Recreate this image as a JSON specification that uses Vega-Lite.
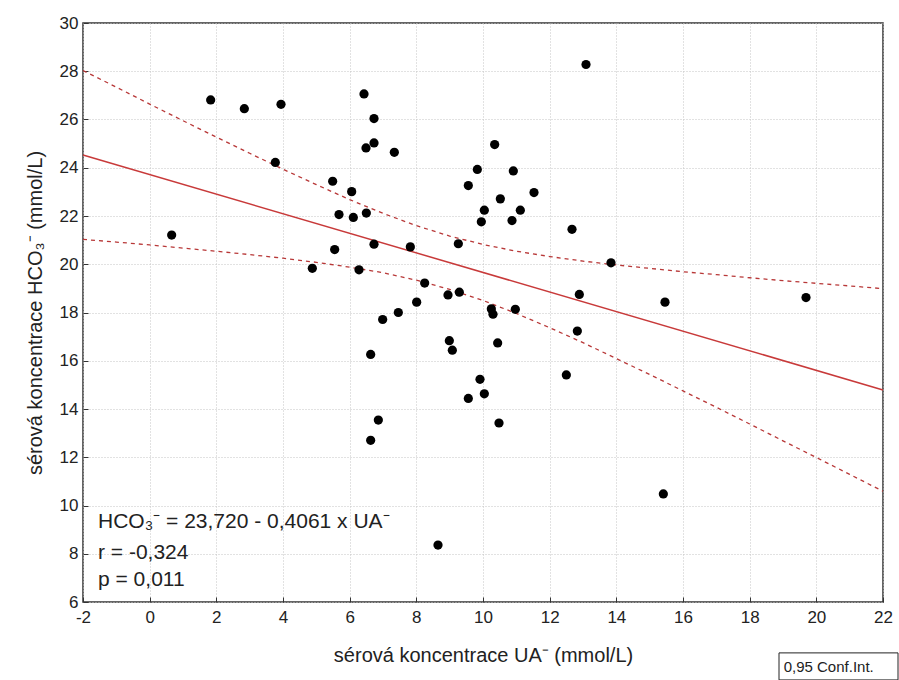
{
  "$schema": "https://vega.github.io/schema/vega-lite/v6.json",
  "width": 800,
  "height": 579,
  "autosize": "none",
  "padding": {"left": 83, "top": 23, "right": 16, "bottom": 78},
  "background": "white",
  "config": {
    "font": "Liberation Sans",
    "view": {"stroke": "#333", "strokeWidth": 1.5},
    "axis": {
      "labelFont": "Liberation Sans",
      "titleFont": "Liberation Sans",
      "labelFontSize": 17,
      "titleFontSize": 20,
      "labelColor": "#222",
      "titleColor": "#222",
      "titleFontWeight": "normal",
      "domain": false,
      "tickColor": "#333",
      "tickSize": -5,
      "gridColor": "#c4c4c4",
      "gridDash": [1, 2],
      "gridWidth": 1
    }
  },
  "datasets": {
    "pts": [
      {"x": 1.83, "y": 26.81}, {"x": 2.84, "y": 26.45}, {"x": 3.94, "y": 26.63}, {"x": 0.66, "y": 21.21},
      {"x": 3.77, "y": 24.22}, {"x": 6.43, "y": 27.06}, {"x": 6.73, "y": 26.04}, {"x": 6.49, "y": 24.82},
      {"x": 6.73, "y": 25.03}, {"x": 7.34, "y": 24.64}, {"x": 5.49, "y": 23.44}, {"x": 6.06, "y": 23.01},
      {"x": 5.68, "y": 22.06}, {"x": 6.11, "y": 21.94}, {"x": 6.50, "y": 22.12}, {"x": 5.55, "y": 20.61},
      {"x": 6.73, "y": 20.83}, {"x": 4.88, "y": 19.83}, {"x": 6.28, "y": 19.77}, {"x": 7.82, "y": 20.72},
      {"x": 8.25, "y": 19.22}, {"x": 8.01, "y": 18.43}, {"x": 6.99, "y": 17.71}, {"x": 7.46, "y": 18.00},
      {"x": 8.95, "y": 18.73}, {"x": 9.29, "y": 18.84}, {"x": 13.09, "y": 28.28}, {"x": 10.35, "y": 24.96},
      {"x": 9.83, "y": 23.93}, {"x": 10.91, "y": 23.87}, {"x": 9.56, "y": 23.26}, {"x": 11.53, "y": 22.97},
      {"x": 10.52, "y": 22.71}, {"x": 10.04, "y": 22.24}, {"x": 11.12, "y": 22.24}, {"x": 9.95, "y": 21.76},
      {"x": 10.87, "y": 21.81}, {"x": 12.67, "y": 21.45}, {"x": 9.26, "y": 20.85}, {"x": 13.84, "y": 20.06},
      {"x": 12.89, "y": 18.75}, {"x": 15.46, "y": 18.43}, {"x": 19.69, "y": 18.62}, {"x": 10.25, "y": 18.15},
      {"x": 10.30, "y": 17.93}, {"x": 10.97, "y": 18.13}, {"x": 12.83, "y": 17.23}, {"x": 8.99, "y": 16.83},
      {"x": 9.08, "y": 16.44}, {"x": 10.44, "y": 16.74}, {"x": 12.50, "y": 15.41}, {"x": 9.91, "y": 15.23},
      {"x": 9.56, "y": 14.44}, {"x": 10.04, "y": 14.63}, {"x": 10.48, "y": 13.42}, {"x": 15.41, "y": 10.48},
      {"x": 6.63, "y": 16.26}, {"x": 6.86, "y": 13.54}, {"x": 6.63, "y": 12.70}, {"x": 8.65, "y": 8.36}
    ],
    "fit": [{"x": -2, "y": 24.53}, {"x": 22, "y": 14.79}],
    "bands": [
      {"band": "upper", "x": -2, "y": 28.03}, {"band": "upper", "x": -1, "y": 27.34}, {"band": "upper", "x": 0, "y": 26.64},
      {"band": "upper", "x": 1, "y": 25.95}, {"band": "upper", "x": 2, "y": 25.27}, {"band": "upper", "x": 3, "y": 24.60},
      {"band": "upper", "x": 4, "y": 23.94}, {"band": "upper", "x": 5, "y": 23.30}, {"band": "upper", "x": 6, "y": 22.68},
      {"band": "upper", "x": 7, "y": 22.11}, {"band": "upper", "x": 8, "y": 21.60}, {"band": "upper", "x": 9, "y": 21.17},
      {"band": "upper", "x": 10, "y": 20.82}, {"band": "upper", "x": 11, "y": 20.54}, {"band": "upper", "x": 12, "y": 20.32},
      {"band": "upper", "x": 13, "y": 20.13}, {"band": "upper", "x": 14, "y": 19.97}, {"band": "upper", "x": 15, "y": 19.83},
      {"band": "upper", "x": 16, "y": 19.69}, {"band": "upper", "x": 17, "y": 19.57}, {"band": "upper", "x": 18, "y": 19.44},
      {"band": "upper", "x": 19, "y": 19.32}, {"band": "upper", "x": 20, "y": 19.21}, {"band": "upper", "x": 21, "y": 19.10},
      {"band": "upper", "x": 22, "y": 18.99},
      {"band": "lower", "x": -2, "y": 21.03}, {"band": "lower", "x": -1, "y": 20.92}, {"band": "lower", "x": 0, "y": 20.80},
      {"band": "lower", "x": 1, "y": 20.67}, {"band": "lower", "x": 2, "y": 20.54}, {"band": "lower", "x": 3, "y": 20.40},
      {"band": "lower", "x": 4, "y": 20.25}, {"band": "lower", "x": 5, "y": 20.08}, {"band": "lower", "x": 6, "y": 19.88},
      {"band": "lower", "x": 7, "y": 19.65}, {"band": "lower", "x": 8, "y": 19.34}, {"band": "lower", "x": 9, "y": 18.96},
      {"band": "lower", "x": 10, "y": 18.50}, {"band": "lower", "x": 11, "y": 17.96}, {"band": "lower", "x": 12, "y": 17.37},
      {"band": "lower", "x": 13, "y": 16.75}, {"band": "lower", "x": 14, "y": 16.09}, {"band": "lower", "x": 15, "y": 15.43},
      {"band": "lower", "x": 16, "y": 14.75}, {"band": "lower", "x": 17, "y": 14.07}, {"band": "lower", "x": 18, "y": 13.38},
      {"band": "lower", "x": 19, "y": 12.68}, {"band": "lower", "x": 20, "y": 11.99}, {"band": "lower", "x": 21, "y": 11.29},
      {"band": "lower", "x": 22, "y": 10.59}
    ],
    "notes": [
      {"x": -1.55, "y": 9.32, "label": "HCO₃⁻ = 23,720 - 0,4061 x UA⁻"},
      {"x": -1.55, "y": 8.03, "label": "r = -0,324"},
      {"x": -1.55, "y": 6.92, "label": "p = 0,011"}
    ],
    "legendbox": [{"x": 18.88, "y": 3.89, "x2": 22.45, "y2": 2.77, "cx": 19.02, "cy": 3.3, "label": "0,95 Conf.Int."}]
  },
  "encoding": {
    "x": {
      "field": "x", "type": "quantitative",
      "scale": {"domain": [-2, 22], "nice": false, "zero": false},
      "axis": {"values": [-2, 0, 2, 4, 6, 8, 10, 12, 14, 16, 18, 20, 22], "title": "sérová koncentrace UA⁻ (mmol/L)", "labelPadding": 12, "titlePadding": 20, "labelFlush": false, "labelExpr": "replace(datum.label, '−', '-')"}
    },
    "y": {
      "field": "y", "type": "quantitative",
      "scale": {"domain": [6, 30], "nice": false, "zero": false},
      "axis": {"values": [6, 8, 10, 12, 14, 16, 18, 20, 22, 24, 26, 28, 30], "title": "sérová koncentrace HCO₃⁻ (mmol/L)", "labelPadding": 10, "titlePadding": 14, "labelFlush": false}
    }
  },
  "layer": [
    {
      "data": {"name": "bands"},
      "mark": {"type": "line", "color": "#b83838", "strokeWidth": 1.3, "strokeDash": [4, 4]},
      "encoding": {"detail": {"field": "band"}}
    },
    {
      "data": {"name": "fit"},
      "mark": {"type": "line", "color": "#c83a3a", "strokeWidth": 1.5},
      "encoding": {}
    },
    {
      "data": {"name": "pts"},
      "mark": {"type": "circle", "color": "black", "opacity": 1, "size": 85},
      "encoding": {}
    },
    {
      "data": {"name": "notes"},
      "mark": {"type": "text", "align": "left", "baseline": "middle", "fontSize": 21, "color": "#222", "font": "Liberation Sans"},
      "encoding": {"text": {"field": "label"}}
    },
    {
      "data": {"name": "legendbox"},
      "mark": {"type": "rect", "fill": "white", "stroke": "#222", "strokeWidth": 1, "clip": false},
      "encoding": {"x2": {"field": "x2"}, "y2": {"field": "y2"}}
    },
    {
      "data": {"name": "legendbox"},
      "mark": {"type": "text", "align": "left", "baseline": "middle", "fontSize": 15, "color": "#222", "clip": false},
      "encoding": {"x": {"field": "cx", "type": "quantitative"}, "y": {"field": "cy", "type": "quantitative"}, "text": {"field": "label"}}
    }
  ]
}
